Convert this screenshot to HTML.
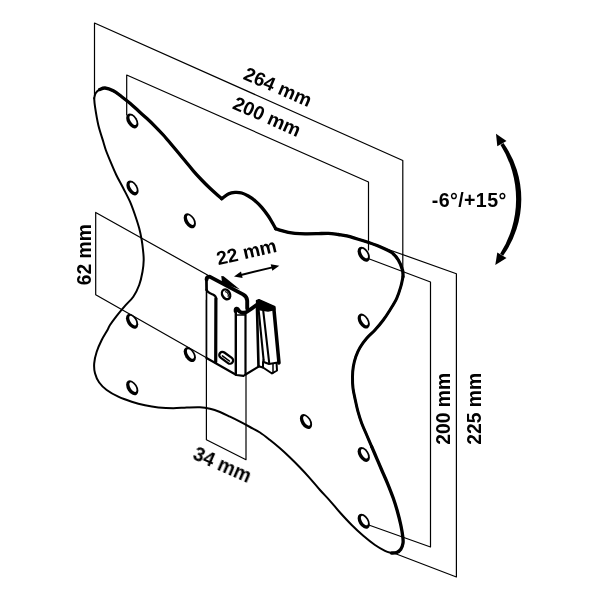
<!DOCTYPE html>
<html><head><meta charset="utf-8"><title>Wall mount dimensions</title>
<style>html,body{margin:0;padding:0;background:#fff;}svg{display:block;}</style>
</head><body>
<svg width="600" height="600" viewBox="0 0 600 600">
<rect width="600" height="600" fill="#fff"/>
<g fill="none" stroke="#000" stroke-linecap="round" stroke-linejoin="round">
<g stroke-width="1.2" stroke="#000">
<path d="M94.5,96 L94.5,23 L402.8,160.5 L402.8,268"/>
<path d="M126.7,115 L126.7,75 L368.5,182 L368.5,250"/>
<path d="M368.75,258.75 L430.5,282 L430.5,547 L368.75,525"/>
<path d="M389,249.7 L456.4,273.75 L456.4,577 L395,553.5"/>
<path d="M207.5,275 L95.7,212.4 L95.7,294.8 L206.5,357.8"/>
<path d="M206.4,300 L206.4,439.8 L246,459.7 L246,375"/>
</g>
<g stroke-width="2">
<path d="M94.20,98.30 C94.43,97.45 94.72,94.65 95.60,93.20 C96.48,91.75 97.93,90.47 99.50,89.60 C101.07,88.73 102.70,87.80 105.00,88.00 C107.30,88.20 110.52,89.35 113.30,90.80 C116.08,92.25 118.92,94.62 121.70,96.70 C124.48,98.78 127.23,100.95 130.00,103.30 C132.77,105.65 135.52,108.30 138.30,110.80 C141.08,113.30 143.92,115.72 146.70,118.30 C149.48,120.88 152.23,123.52 155.00,126.30 C157.77,129.08 161.08,132.58 163.30,135.00 C165.52,137.42 166.07,138.17 168.30,140.80 C170.53,143.43 173.92,147.47 176.70,150.80 C179.48,154.13 182.23,157.47 185.00,160.80 C187.77,164.13 190.52,167.60 193.30,170.80 C196.08,174.00 198.92,177.08 201.70,180.00 C204.48,182.92 207.23,185.67 210.00,188.30 C212.77,190.93 216.35,194.07 218.30,195.80 C220.25,197.53 221.13,198.22 221.70,198.70"/>
<path d="M221.70,198.70 C222.80,197.92 226.08,195.05 228.30,194.00 C230.52,192.95 232.77,192.57 235.00,192.40 C237.23,192.23 239.48,192.40 241.70,193.00 C243.92,193.60 246.08,194.72 248.30,196.00 C250.52,197.28 252.77,198.82 255.00,200.70 C257.23,202.58 259.48,204.75 261.70,207.30 C263.92,209.85 266.53,213.43 268.30,216.00 C270.07,218.57 271.07,220.58 272.30,222.70 C273.53,224.82 275.13,227.70 275.70,228.70"/>
<path d="M275.70,228.70 C276.70,229.03 279.60,230.08 281.70,230.70 C283.80,231.32 286.08,231.97 288.30,232.40 C290.52,232.83 292.22,233.07 295.00,233.30 C297.78,233.53 301.38,233.73 305.00,233.80 C308.62,233.87 312.82,233.78 316.70,233.70 C320.58,233.62 324.70,233.17 328.30,233.30 C331.90,233.43 335.23,234.08 338.30,234.50 C341.37,234.92 342.53,234.75 346.70,235.80 C350.87,236.85 357.75,238.98 363.30,240.80 C368.85,242.62 375.27,244.75 380.00,246.70 C384.73,248.65 388.65,250.28 391.70,252.50 C394.75,254.72 396.50,257.08 398.30,260.00 C400.10,262.92 401.72,267.22 402.50,270.00 C403.28,272.78 402.92,275.58 403.00,276.70"/>
<path d="M403.00,276.70 C402.63,278.37 401.85,283.10 400.80,286.70 C399.75,290.30 398.50,294.42 396.70,298.30 C394.90,302.18 392.23,306.38 390.00,310.00 C387.77,313.62 385.80,316.67 383.30,320.00 C380.80,323.33 377.77,326.95 375.00,330.00 C372.23,333.05 369.20,335.38 366.70,338.30 C364.20,341.22 361.82,344.43 360.00,347.50 C358.18,350.57 356.92,353.50 355.80,356.70 C354.68,359.90 353.85,363.37 353.30,366.70 C352.75,370.03 352.55,373.10 352.50,376.70 C352.45,380.30 352.53,384.42 353.00,388.30 C353.47,392.18 354.47,396.10 355.30,400.00 C356.13,403.90 356.93,407.82 358.00,411.70 C359.07,415.58 360.25,419.42 361.70,423.30 C363.15,427.18 365.03,431.10 366.70,435.00 C368.37,438.90 370.87,444.75 371.70,446.70"/>
<path d="M371.70,446.70 C372.53,448.63 375.03,454.42 376.70,458.30 C378.37,462.18 379.90,465.83 381.70,470.00 C383.50,474.17 385.57,478.58 387.50,483.30 C389.43,488.02 391.63,493.57 393.30,498.30 C394.97,503.03 396.25,507.25 397.50,511.70 C398.75,516.15 399.92,520.83 400.80,525.00 C401.68,529.17 402.43,533.65 402.80,536.70 C403.17,539.75 403.33,541.22 403.00,543.30 C402.67,545.38 401.85,547.67 400.80,549.20 C399.75,550.73 398.22,551.87 396.70,552.50 C395.18,553.13 392.53,552.92 391.70,553.00"/>
<path d="M391.70,553.00 C390.58,552.63 387.78,552.13 385.00,550.80 C382.22,549.47 378.62,547.50 375.00,545.00 C371.38,542.50 367.18,539.13 363.30,535.80 C359.42,532.47 355.58,528.88 351.70,525.00 C347.82,521.12 343.62,516.53 340.00,512.50 C336.38,508.47 333.33,504.55 330.00,500.80 C326.67,497.05 323.33,493.75 320.00,490.00 C316.67,486.25 313.33,482.05 310.00,478.30 C306.67,474.55 303.33,470.97 300.00,467.50 C296.67,464.03 293.33,460.70 290.00,457.50 C286.67,454.30 283.33,451.22 280.00,448.30 C276.67,445.38 273.33,442.63 270.00,440.00 C266.67,437.37 263.33,434.67 260.00,432.50 C256.67,430.33 253.33,428.80 250.00,427.00 C246.67,425.20 243.33,423.42 240.00,421.70 C236.67,419.98 233.33,418.32 230.00,416.70 C226.67,415.08 223.33,413.33 220.00,412.00 C216.67,410.67 213.33,409.50 210.00,408.70 C206.67,407.90 203.88,407.40 200.00,407.20 C196.12,407.00 191.15,407.32 186.70,407.50 C182.25,407.68 178.03,408.30 173.30,408.30 C168.57,408.30 163.02,408.00 158.30,407.50 C153.58,407.00 149.43,406.27 145.00,405.30 C140.57,404.33 136.15,403.13 131.70,401.70 C127.25,400.27 122.47,398.65 118.30,396.70 C114.13,394.75 109.88,392.37 106.70,390.00 C103.52,387.63 101.15,385.28 99.20,382.50 C97.25,379.72 95.83,376.50 95.00,373.30 C94.17,370.10 93.92,366.90 94.20,363.30 C94.48,359.70 95.45,355.58 96.70,351.70 C97.95,347.82 99.90,343.62 101.70,340.00 C103.50,336.38 106.12,332.50 107.50,330.00 C108.88,327.50 108.47,327.37 110.00,325.00 C111.53,322.63 114.20,319.00 116.70,315.80 C119.20,312.60 122.23,308.98 125.00,305.80 C127.77,302.62 130.93,300.17 133.30,296.70 C135.67,293.23 137.67,289.17 139.20,285.00 C140.73,280.83 141.75,275.87 142.50,271.70 C143.25,267.53 143.62,263.62 143.70,260.00 C143.78,256.38 143.33,253.33 143.00,250.00 C142.67,246.67 142.33,243.62 141.70,240.00 C141.07,236.38 140.32,232.47 139.20,228.30 C138.08,224.13 136.53,219.43 135.00,215.00 C133.47,210.57 131.95,206.15 130.00,201.70 C128.05,197.25 125.58,192.75 123.30,188.30 C121.02,183.85 118.43,179.43 116.30,175.00 C114.17,170.57 112.25,165.87 110.50,161.70 C108.75,157.53 107.00,153.33 105.80,150.00 C104.60,146.67 104.55,145.87 103.30,141.70 C102.05,137.53 99.68,130.83 98.30,125.00 C96.92,119.17 95.68,111.15 95.00,106.70 C94.32,102.25 94.33,99.70 94.20,98.30"/>
</g>
<g stroke-width="3.3">
<path d="M99.50,89.60 C100.42,89.33 102.70,87.80 105.00,88.00 C107.30,88.20 110.52,89.35 113.30,90.80 C116.08,92.25 118.92,94.62 121.70,96.70 C124.48,98.78 127.23,100.95 130.00,103.30 C132.77,105.65 135.52,108.30 138.30,110.80 C141.08,113.30 143.92,115.72 146.70,118.30 C149.48,120.88 152.23,123.52 155.00,126.30 C157.77,129.08 161.08,132.58 163.30,135.00 C165.52,137.42 166.07,138.17 168.30,140.80 C170.53,143.43 173.92,147.47 176.70,150.80 C179.48,154.13 182.23,157.47 185.00,160.80 C187.77,164.13 190.52,167.60 193.30,170.80 C196.08,174.00 198.92,177.08 201.70,180.00 C204.48,182.92 207.23,185.67 210.00,188.30 C212.77,190.93 216.35,194.07 218.30,195.80 C220.25,197.53 221.13,198.22 221.70,198.70"/>
<path d="M221.70,198.70 C222.80,197.92 226.08,195.05 228.30,194.00 C230.52,192.95 232.77,192.57 235.00,192.40 C237.23,192.23 239.48,192.40 241.70,193.00 C243.92,193.60 246.08,194.72 248.30,196.00 C250.52,197.28 252.77,198.82 255.00,200.70 C257.23,202.58 259.48,204.75 261.70,207.30 C263.92,209.85 266.53,213.43 268.30,216.00 C270.07,218.57 271.07,220.58 272.30,222.70 C273.53,224.82 275.13,227.70 275.70,228.70"/>
<path d="M275.70,228.70 C276.70,229.03 279.60,230.08 281.70,230.70 C283.80,231.32 286.08,231.97 288.30,232.40 C290.52,232.83 292.22,233.07 295.00,233.30 C297.78,233.53 301.38,233.73 305.00,233.80 C308.62,233.87 312.82,233.78 316.70,233.70 C320.58,233.62 324.70,233.17 328.30,233.30 C331.90,233.43 335.23,234.08 338.30,234.50 C341.37,234.92 342.53,234.75 346.70,235.80 C350.87,236.85 357.75,238.98 363.30,240.80 C368.85,242.62 375.27,244.75 380.00,246.70 C384.73,248.65 388.65,250.28 391.70,252.50 C394.75,254.72 396.50,257.08 398.30,260.00 C400.10,262.92 401.72,267.22 402.50,270.00 C403.28,272.78 402.92,275.58 403.00,276.70"/>
</g>
<g stroke-width="3">
<path d="M403.00,276.70 C402.63,278.37 401.85,283.10 400.80,286.70 C399.75,290.30 398.50,294.42 396.70,298.30 C394.90,302.18 392.23,306.38 390.00,310.00 C387.77,313.62 385.80,316.67 383.30,320.00 C380.80,323.33 377.77,326.95 375.00,330.00 C372.23,333.05 369.20,335.38 366.70,338.30 C364.20,341.22 361.82,344.43 360.00,347.50 C358.18,350.57 356.92,353.50 355.80,356.70 C354.68,359.90 353.85,363.37 353.30,366.70 C352.75,370.03 352.55,373.10 352.50,376.70 C352.45,380.30 352.53,384.42 353.00,388.30 C353.47,392.18 354.47,396.10 355.30,400.00 C356.13,403.90 356.93,407.82 358.00,411.70 C359.07,415.58 360.25,419.42 361.70,423.30 C363.15,427.18 365.03,431.10 366.70,435.00 C368.37,438.90 370.87,444.75 371.70,446.70"/>
</g>
<g stroke-width="3.3">
<path d="M371.70,446.70 C372.53,448.63 375.03,454.42 376.70,458.30 C378.37,462.18 379.90,465.83 381.70,470.00 C383.50,474.17 385.57,478.58 387.50,483.30 C389.43,488.02 391.63,493.57 393.30,498.30 C394.97,503.03 396.25,507.25 397.50,511.70 C398.75,516.15 399.92,520.83 400.80,525.00 C401.68,529.17 402.43,533.65 402.80,536.70 C403.17,539.75 403.33,541.22 403.00,543.30 C402.67,545.38 401.85,547.67 400.80,549.20 C399.75,550.73 398.22,551.87 396.70,552.50 C395.18,553.13 392.53,552.92 391.70,553.00"/>
</g>
<g stroke="none">
<g transform="translate(132.30,120.90) rotate(-32)"><ellipse rx="5.1" ry="8.2" fill="#000"/><ellipse cx="0.9" cy="-0.2" rx="2.5" ry="5.4" fill="#fff"/></g>
<g transform="translate(132.50,187.90) rotate(-32)"><ellipse rx="5.1" ry="8.2" fill="#000"/><ellipse cx="0.9" cy="-0.2" rx="2.5" ry="5.4" fill="#fff"/></g>
<g transform="translate(189.80,220.80) rotate(-32)"><ellipse rx="5.1" ry="8.2" fill="#000"/><ellipse cx="0.9" cy="-0.2" rx="2.5" ry="5.4" fill="#fff"/></g>
<g transform="translate(363.75,254.20) rotate(-32)"><ellipse rx="5.1" ry="8.2" fill="#000"/><ellipse cx="0.9" cy="-0.2" rx="2.5" ry="5.4" fill="#fff"/></g>
<g transform="translate(363.75,321.10) rotate(-32)"><ellipse rx="5.1" ry="8.2" fill="#000"/><ellipse cx="0.9" cy="-0.2" rx="2.5" ry="5.4" fill="#fff"/></g>
<g transform="translate(306.00,421.50) rotate(-32)"><ellipse rx="5.1" ry="8.2" fill="#000"/><ellipse cx="0.9" cy="-0.2" rx="2.5" ry="5.4" fill="#fff"/></g>
<g transform="translate(363.75,454.40) rotate(-32)"><ellipse rx="5.1" ry="8.2" fill="#000"/><ellipse cx="0.9" cy="-0.2" rx="2.5" ry="5.4" fill="#fff"/></g>
<g transform="translate(363.75,521.20) rotate(-32)"><ellipse rx="5.1" ry="8.2" fill="#000"/><ellipse cx="0.9" cy="-0.2" rx="2.5" ry="5.4" fill="#fff"/></g>
<g transform="translate(132.10,321.25) rotate(-32)"><ellipse rx="5.1" ry="8.2" fill="#000"/><ellipse cx="0.9" cy="-0.2" rx="2.5" ry="5.4" fill="#fff"/></g>
<g transform="translate(189.80,354.60) rotate(-32)"><ellipse rx="5.1" ry="8.2" fill="#000"/><ellipse cx="0.9" cy="-0.2" rx="2.5" ry="5.4" fill="#fff"/></g>
<g transform="translate(132.25,387.75) rotate(-32)"><ellipse rx="5.1" ry="8.2" fill="#000"/><ellipse cx="0.9" cy="-0.2" rx="2.5" ry="5.4" fill="#fff"/></g>
</g>
</g>
<g>
<path d="M503.47,142.96 A97.35,97.35 0 0 1 503.07,255.84 L500.13,253.76 A101.6,101.6 0 0 0 500.53,145.04 Z" fill="#000"/>
<polygon points="496,133.7 497.3,146.2 506.5,141" fill="#000"/>
<polygon points="495.3,265 497.3,252.5 506.5,258" fill="#000"/>
</g>
<g>
<path d="M240,275.2 L273.5,267.1" stroke="#000" stroke-width="2" fill="none"/>
<polygon points="234,276.6 241,271.6 242.6,278.1" fill="#000"/>
<polygon points="279.3,265.7 272.3,270.7 270.7,264.2" fill="#000"/>
</g>
<g font-family="Liberation Sans, sans-serif" font-weight="bold" font-size="19.3" fill="#000" text-anchor="middle" opacity="0.999">
<text transform="translate(278.0,86.6) rotate(23.5)" y="6.91">264 mm</text>
<text transform="translate(267.2,116.3) rotate(23.8)" y="6.91">200 mm</text>
<text transform="translate(84.5,254.7) rotate(-90.0)" y="6.91">62 mm</text>
<text transform="translate(443.5,408.8) rotate(-90.0)" y="6.91">200 mm</text>
<text transform="translate(474.5,408.8) rotate(-90.0)" y="6.91">225 mm</text>
<text transform="translate(246.5,251.7) rotate(-13.1)" y="6.91">22 mm</text>
<text transform="translate(222.4,464.4) rotate(23.7)" y="6.91">34 mm</text>
<text transform="translate(469.2,199.5) rotate(0.0)" y="7.02" font-size="19.6" letter-spacing="0.4">-6°/+15°</text>
</g>
<g id="bracket" fill="none" stroke="#000" stroke-linecap="round" stroke-linejoin="round">
<!-- flange top edge -->
<path d="M206.6,279.5 Q206.6,276.6 209.6,276.6 L243,294.4 Q247.2,296.8 247.2,300.8 L247.2,308.5" stroke-width="3.9"/>
<polygon points="221.3,276 223.6,276.2 240,289.5 222,283" fill="#000" stroke="none"/>
<!-- left edge -->
<path d="M206.4,279 L206.6,290" stroke-width="2.6"/>
<path d="M206.5,279 L206.5,358.5" stroke-width="1.6"/>
<path d="M206.6,289.5 C207,292.3 210,293.3 213,294.6 Q216.2,296 216.2,299" stroke-width="2.2"/>
<path d="M215.9,298.5 L215.7,362" stroke-width="3.2"/>
<!-- bottom edge -->
<path d="M206.5,358 L236.4,375 L243.5,375.9 L245.6,374.5 L259,366.3" stroke-width="2.1"/>
<!-- channel verticals -->
<path d="M235.8,313 L235.8,374.5" stroke-width="2.4"/>
<path d="M245.5,312 L245.5,374.5" stroke-width="2.2"/>
<path d="M236,315 L245.5,315" stroke-width="1.4"/>
<!-- hook -->
<path d="M235.6,311.2 C235.2,308 237.6,307.8 238.6,310.2 C239.6,312.8 243,313.4 246.4,312 C249.8,310.4 252.5,308 257.5,304.2" stroke-width="3.8"/>
<!-- screw hole -->
<g transform="translate(226.1,294.3) rotate(-28)"><ellipse rx="3.8" ry="5.2" stroke-width="2.4"/><path d="M0.6,-2.6 C2.4,-1.4 2.4,1.6 0.8,2.8" stroke-width="1.2"/></g>
<!-- slot -->
<g transform="translate(226.2,357.8) rotate(36)"><rect x="-7.8" y="-3.2" width="15.6" height="6.4" rx="3.2" stroke-width="2.3"/><path d="M-4.2,0.7 L4.6,0.7" stroke-width="1.5"/></g>
<!-- clip piece -->
<polygon points="256.5,300.7 259,299.6 274.8,306.6 274.8,309.6 268,311 257,309.4" fill="#000" stroke="#000" stroke-width="1.4"/>
<path d="M256.9,305 L258.5,366.3" stroke-width="2.6"/>
<path d="M258.6,309.5 L263.6,360" stroke-width="2.1"/>
<path d="M263.2,310.5 L269.2,363" stroke-width="2.1"/>
<path d="M273.8,308 L279,363" stroke-width="3.5"/>
<path d="M263.5,360 Q263,362 265,362.5 L269,364 L277.8,362.6" stroke-width="2"/>
<path d="M258.5,366.3 L263,367.5 L272,373.5 L277,370.5 L276.6,364" stroke-width="2"/>
<path d="M263,362 L263,367.5" stroke-width="2"/>
<path d="M273,364 L273,373" stroke-width="1.5"/>
</g>

</svg>
</body></html>
